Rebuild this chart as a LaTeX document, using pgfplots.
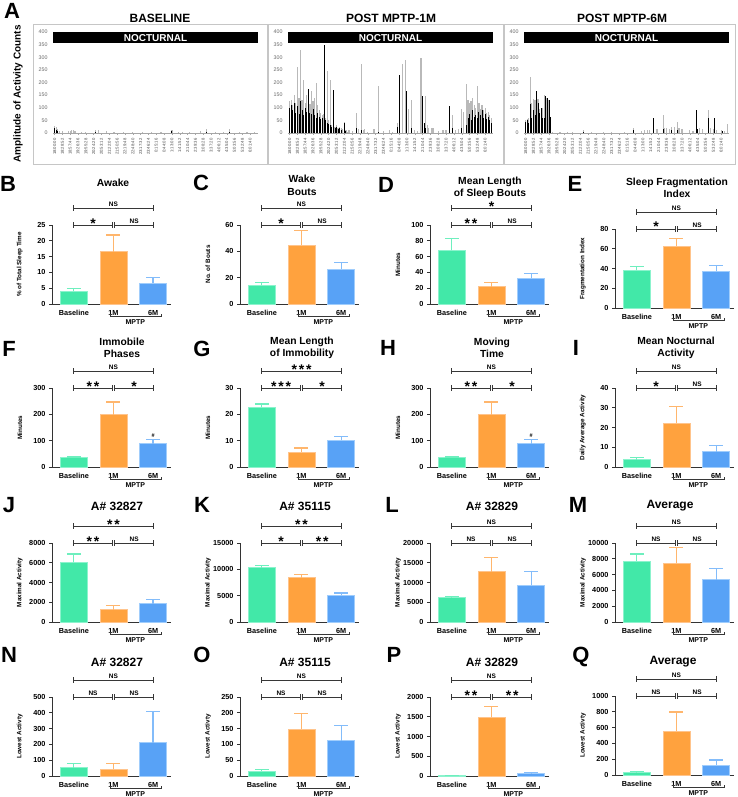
\documentclass[border=0pt]{standalone}
\usepackage{fontspec}
\setmainfont{Liberation Sans}
\usepackage{pgfplots}
\pgfplotsset{compat=1.18}

\definecolor{gB}{RGB}{66,232,168}
\definecolor{gBd}{RGB}{140,243,205}
\definecolor{oB}{RGB}{255,162,62}
\definecolor{oBd}{RGB}{255,196,140}
\definecolor{bB}{RGB}{88,162,246}
\definecolor{bBd}{RGB}{160,205,252}
\definecolor{brk}{RGB}{55,55,55}

\newcommand\NS{{\fontsize{6.5}{7}\selectfont NS}}
\newcommand\St[1]{\raisebox{-4.6pt}{\fontsize{14}{14}\selectfont #1}}
\newcommand\Sa{\St{*}}
\newcommand\Sb{\St{*\hspace{1.8pt}*}}
\newcommand\Sc{\St{*\hspace{1.8pt}*\hspace{1.8pt}*}}

\newcommand\hbr[3]{%
  \draw[brk,line width=0.9pt] ([yshift=#3]rel axis cs:#1,1) -- ([yshift=#3]rel axis cs:#2,1);
  \draw[brk,line width=0.9pt] ([yshift=#3-2.6pt]rel axis cs:#1,1) -- ([yshift=#3+2.6pt]rel axis cs:#1,1);
  \draw[brk,line width=0.9pt] ([yshift=#3-2.6pt]rel axis cs:#2,1) -- ([yshift=#3+2.6pt]rel axis cs:#2,1);
}
\newcommand\brackets[3]{%
  \hbr{0.1833}{0.85}{17pt}%
  \hbr{0.1833}{0.507}{0pt}%
  \hbr{0.527}{0.85}{0pt}%
  \node[anchor=base,inner sep=0pt] at ([yshift=18.6pt]rel axis cs:0.5167,1) {#1};
  \node[anchor=base,inner sep=0pt] at ([yshift=1.6pt]rel axis cs:0.345,1) {#2};
  \node[anchor=base,inner sep=0pt] at ([yshift=1.6pt]rel axis cs:0.69,1) {#3};
  \draw[brk,line width=0.9pt] ([yshift=-10pt]rel axis cs:0.487,0) -- ([yshift=-12.5pt]rel axis cs:0.487,0) -- ([yshift=-12.5pt]rel axis cs:0.916,0) -- ([yshift=-10pt]rel axis cs:0.916,0);
  \node[anchor=center,inner sep=0pt,font=\bfseries\fontsize{7}{8}\selectfont] at ([yshift=-18pt]rel axis cs:0.70,0) {MPTP};
}
\newcommand\bars[6]{%
 \addplot[ybar,bar width=27pt,fill=gB,draw=gBd,line width=0.8pt,
   error bars/.cd,y dir=plus,y explicit,
   error bar style={color=gBd!60!gB,line width=1.3pt},
   error mark options={rotate=90,mark size=7pt,color=gBd!60!gB,line width=1.3pt}]
   coordinates {(0,#1) +- (0,#2)};
 \addplot[ybar,bar width=27pt,fill=oB,draw=oBd,line width=0.8pt,
   error bars/.cd,y dir=plus,y explicit,
   error bar style={color=oBd!60!oB,line width=1.3pt},
   error mark options={rotate=90,mark size=7pt,color=oBd!60!oB,line width=1.3pt}]
   coordinates {(1,#3) +- (0,#4)};
 \addplot[ybar,bar width=27pt,fill=bB,draw=bBd,line width=0.8pt,
   error bars/.cd,y dir=plus,y explicit,
   error bar style={color=bBd!60!bB,line width=1.3pt},
   error mark options={rotate=90,mark size=7pt,color=bBd!60!bB,line width=1.3pt}]
   coordinates {(2,#5) +- (0,#6)};
}

\pgfplotsset{
 barpanel/.style={
   scale only axis,width=119pt,height=79pt,anchor=south west,
   xmin=-0.55,xmax=2.45,ymin=0,
   axis x line*=bottom,axis y line*=left,
   axis line style={-,line width=0.9pt,black!80},
   xtick={0,1,2},xticklabels={Baseline,1M,6M},
   x tick style={draw=none},
   y tick style={line width=0.9pt,black!80},
   tick align=outside,major tick length=3pt,
   tick label style={font=\bfseries\fontsize{7.3}{8}\selectfont},
   /pgf/number format/assume math mode=true,
   /pgf/number format/1000 sep={},
   scaled y ticks=false,
   ylabel style={font=\bfseries\fontsize{6.3}{7}\selectfont,at={(axis description cs:-0.27,0.5)},anchor=center,rotate=0},
   clip=false,
 },
 actpanel/.style={
   scale only axis,width=205pt,height=101pt,anchor=south west,
   xmin=-1,xmax=130,ymin=0,ymax=400,ytick={0,50,...,400},
   axis x line*=bottom,axis y line*=left,
   y axis line style={draw=none},x axis line style={-,gray!70,line width=0.6pt},
   ytick style={draw=none},
   xtick={0,5,...,125},
   xticklabels={18:00:00,18:28:52,18:57:44,19:26:36,19:55:28,20:24:20,20:53:12,21:22:04,21:50:56,22:19:48,22:48:40,23:17:32,23:46:24,0:15:16,0:44:08,1:13:00,1:41:52,2:10:44,2:39:36,3:08:28,3:37:20,4:06:12,4:35:04,5:03:56,5:32:48,6:01:40},
   x tick style={gray!70,line width=0.4pt},tick align=outside,major tick length=2pt,
   yticklabel style={font=\mdseries\fontsize{5.3}{6}\selectfont,text=black!60},
   xticklabel style={font=\mdseries\fontsize{4.2}{5}\selectfont,text=black!70,rotate=90,anchor=east},
   /pgf/number format/assume math mode=true,
   clip=false,
 },
}
\newcommand\noct{%
  \fill[black] (rel axis cs:0,0.888) rectangle (rel axis cs:1,1);
  \node[white,font=\bfseries\fontsize{10}{11}\selectfont] at (rel axis cs:0.5,0.944) {NOCTURNAL};
}

\begin{document}
\bfseries
\begin{tikzpicture}[font=\bfseries]
\useasboundingbox (0,0) rectangle (738pt,-797pt);

% ---------------- Panel A ----------------
\node[font=\bfseries\fontsize{22}{22}\selectfont] at (12pt,-11pt) {A};
\node[rotate=90,font=\bfseries\fontsize{10}{12}\selectfont] at (18pt,-94pt) {Amplitude of Activity Counts};
\draw[gray!45,line width=0.8pt] (33pt,-24pt) rectangle (267pt,-164pt);
\draw[gray!45,line width=0.8pt] (268pt,-24pt) rectangle (503pt,-164pt);
\draw[gray!45,line width=0.8pt] (504pt,-24pt) rectangle (735pt,-164pt);
\node[font=\bfseries\fontsize{12}{13}\selectfont] at (160pt,-18pt) {BASELINE};
\node[font=\bfseries\fontsize{12}{13}\selectfont] at (391pt,-18pt) {POST MPTP-1M};
\node[font=\bfseries\fontsize{12}{13}\selectfont] at (622pt,-18pt) {POST MPTP-6M};

\begin{axis}[actpanel,at={(53pt,-133pt)}]
\addplot[ycomb,no marks,gray!55,line width=1.2pt] coordinates {(0,28) (1,22) (2,15) (3,8) (5,8) (9,6) (10,9) (11,10) (12,11) (13,8) (17,3) (20,2) (26,12) (28,12) (33,8) (38,5) (44,3) (50,2) (56,3) (62,2) (68,3) (75,12) (79,4) (82,5) (86,5) (93,6) (97,16) (103,5) (108,3) (112,15) (118,3) (123,4) (128,5)};
\addplot[ycomb,no marks,black,line width=0.9pt] coordinates {(0,18) (1,12) (2,6) (26,5) (75,7) (97,4) (112,5)};
\noct
\end{axis}

\begin{axis}[actpanel,at={(288pt,-133pt)}]
\addplot[ycomb,no marks,gray!55,line width=1.2pt] coordinates {(0,125) (1,130) (2,110) (3,150) (4,120) (5,262) (6,140) (7,330) (8,130) (9,210) (10,120) (11,150) (12,100) (13,115) (14,165) (15,125) (16,140) (17,197) (18,110) (19,90) (20,80) (21,70) (22,75) (23,60) (24,245) (25,50) (26,210) (27,30) (28,40) (29,25) (30,30) (31,20) (32,25) (33,20) (34,15) (35,45) (36,10) (37,5) (38,10) (40,8) (43,80) (44,15) (46,272) (47,10) (48,15) (50,5) (54,15) (57,185) (60,8) (64,10) (66,5) (69,40) (72,272) (74,290) (76,95) (78,132) (80,10) (82,8) (84,298) (87,145) (88,30) (89,20) (91,20) (92,20) (95,8) (98,10) (100,12) (104,70) (106,10) (108,15) (110,95) (111,85) (113,193) (114,130) (115,120) (116,125) (117,140) (118,110) (119,100) (120,185) (121,120) (122,95) (123,110) (124,90) (125,100) (126,80) (127,85) (128,70) (129,60)};
\addplot[ycomb,no marks,black,line width=0.9pt] coordinates {(0,100) (1,110) (2,90) (3,120) (4,80) (5,105) (6,75) (7,125) (8,90) (9,70) (10,100) (11,85) (12,175) (13,80) (14,75) (15,95) (16,70) (17,60) (18,80) (19,65) (20,55) (21,60) (22,350) (23,50) (24,40) (25,35) (26,30) (27,25) (28,170) (29,20) (30,25) (31,15) (32,20) (33,10) (35,40) (36,8) (43,20) (46,10) (57,5) (69,25) (70,230) (75,165) (78,20) (85,145) (86,40) (87,20) (102,105) (104,20) (110,20) (113,30) (114,60) (115,75) (116,50) (117,90) (118,65) (119,70) (120,60) (121,85) (122,70) (123,90) (124,60) (125,75) (126,55) (127,65) (128,50) (129,40)};
\noct
\end{axis}

\begin{axis}[actpanel,at={(524pt,-133pt)}]
\addplot[ycomb,no marks,gray!55,line width=1.2pt] coordinates {(0,50) (1,55) (2,60) (3,222) (4,120) (5,135) (6,130) (7,100) (8,135) (9,95) (10,95) (11,100) (12,149) (13,140) (14,135) (15,130) (16,60) (17,5) (22,5) (27,4) (30,5) (37,10) (42,4) (50,5) (55,3) (63,5) (69,20) (74,8) (76,12) (78,10) (79,12) (84,15) (88,70) (89,18) (90,20) (92,15) (93,25) (95,22) (97,45) (98,20) (100,15) (105,12) (107,8) (111,20) (113,15) (117,90) (118,20) (120,15) (122,10) (125,10) (127,8) (129,35)};
\addplot[ycomb,no marks,black,line width=0.9pt] coordinates {(0,45) (1,50) (2,40) (3,115) (4,60) (5,90) (6,70) (7,166) (8,120) (9,80) (10,100) (11,60) (12,60) (13,145) (14,140) (15,130) (16,65) (37,5) (69,10) (82,60) (88,15) (93,10) (97,12) (109,90) (110,15) (117,60) (121,60) (126,8)};
\noct
\end{axis}

% ---------------- Row B-E ----------------
\begin{axis}[barpanel,at={(52pt,-304pt)},ymax=25,ytick distance=5,ylabel={\% of Total Sleep Time}]
\bars{4.1}{0.9}{16.5}{5.3}{6.5}{1.9}
\brackets{\NS}{\Sa}{\NS}
\end{axis}
\begin{axis}[barpanel,at={(240pt,-304pt)},ymax=60,ytick distance=20,ylabel={No. of Bouts}]
\bars{14.4}{1.8}{44.5}{11.4}{26.4}{5}
\brackets{\NS}{\Sa}{\NS}
\end{axis}
\begin{axis}[barpanel,at={(430pt,-304pt)},ymax=100,ytick distance=20,ylabel={Minutes}]
\bars{68}{15}{22}{5}{32.5}{6.5}
\brackets{\Sa}{\Sb}{\NS}
\end{axis}
\begin{axis}[barpanel,at={(615pt,-308pt)},ymax=80,ytick distance=20,ylabel={Fragmentation Index}]
\bars{38.3}{4}{62.3}{8.4}{37.3}{5.7}
\brackets{\NS}{\Sa}{\NS}
\end{axis}

% ---------------- Row F-I ----------------
\begin{axis}[barpanel,at={(52pt,-467pt)},ymax=300,ytick distance=100,ylabel={Minutes}]
\bars{36}{2}{198}{49}{89}{16}
\brackets{\NS}{\Sb}{\Sa}
\node[anchor=south,inner sep=0pt,font=\bfseries\fontsize{5.5}{6}\selectfont] at ([yshift=2pt]axis cs:2,105) {\#};
\end{axis}
\begin{axis}[barpanel,at={(240pt,-467pt)},ymax=30,ytick distance=10,ylabel={Minutes}]
\bars{22.6}{1.3}{5.7}{1.5}{10.1}{1.5}
\brackets{\Sc}{\Sc}{\Sa}
\end{axis}
\begin{axis}[barpanel,at={(430pt,-467pt)},ymax=300,ytick distance=100,ylabel={Minutes}]
\bars{36}{2}{198}{49}{89}{16}
\brackets{\NS}{\Sb}{\Sa}
\node[anchor=south,inner sep=0pt,font=\bfseries\fontsize{5.5}{6}\selectfont] at ([yshift=2pt]axis cs:2,105) {\#};
\end{axis}
\begin{axis}[barpanel,at={(615pt,-467pt)},ymax=40,ytick distance=10,ylabel={Daily Average Activity}]
\bars{3.8}{1}{22.3}{8.2}{7.7}{3.3}
\brackets{\NS}{\Sa}{\NS}
\end{axis}

% ---------------- Row J-M ----------------
\begin{axis}[barpanel,at={(52pt,-622pt)},ymax=8000,ytick distance=2000,ylabel={Maximal Activity}]
\bars{6050}{850}{1230}{440}{1850}{410}
\brackets{\Sb}{\Sb}{\NS}
\end{axis}
\begin{axis}[barpanel,at={(240pt,-622pt)},ymax=15000,ytick distance=5000,ylabel={Maximal Activity}]
\bars{10330}{400}{8400}{640}{5060}{460}
\brackets{\Sb}{\Sa}{\Sb}
\end{axis}
\begin{axis}[barpanel,at={(430pt,-622pt)},ymax=20000,ytick distance=5000,ylabel={Maximal Activity}]
\bars{6330}{100}{12740}{3660}{9300}{3440}
\brackets{\NS}{\NS}{\NS}
\end{axis}
\begin{axis}[barpanel,at={(615pt,-622pt)},ymax=10000,ytick distance=2000,ylabel={Maximal Activity}]
\bars{7730}{860}{7440}{2010}{5380}{1410}
\brackets{\NS}{\NS}{\NS}
\end{axis}

% ---------------- Row N-Q ----------------
\begin{axis}[barpanel,at={(52pt,-776pt)},ymax=500,ytick distance=100,ylabel={Lowest Activty}]
\bars{52}{28}{44}{36}{211}{196}
\brackets{\NS}{\NS}{\NS}
\end{axis}
\begin{axis}[barpanel,at={(240pt,-776pt)},ymax=250,ytick distance=50,ylabel={Lowest Activty}]
\bars{16}{5}{148}{50}{112}{47}
\brackets{\NS}{\NS}{\NS}
\end{axis}
\begin{axis}[barpanel,at={(430pt,-776pt)},ymax=2000,ytick distance=500,ylabel={Lowest Activty}]
\bars{12}{5}{1486}{270}{62}{20}
\brackets{\NS}{\Sb}{\Sb}
\end{axis}
\begin{axis}[barpanel,at={(615pt,-775pt)},ymax=1000,ytick distance=200,ylabel={Lowest Activty}]
\bars{29}{13}{555}{242}{127}{64}
\brackets{\NS}{\NS}{\NS}
\end{axis}

% ---------------- Letters ----------------
\foreach \l/\x/\y in {B/8/184,C/201/183,D/386/185,E/575/184,F/9/349,G/202/349,H/388/348,I/576/348,J/9/505,K/202/505,L/392/505,M/578/505,N/9/655,O/202/655,P/394/655,Q/581/657}
  \node[font=\bfseries\fontsize{22}{22}\selectfont] at (\x pt,-\y pt) {\l};

% ---------------- Titles ----------------
\begin{scope}[every node/.style={align=center,font=\bfseries\fontsize{10.3}{12.5}\selectfont}]
\node at (113pt,-183pt) {Awake};
\node at (302pt,-185.5pt) {Wake\\Bouts};
\node at (490pt,-188pt) {Mean Length\\of Sleep Bouts};
\node at (677pt,-188pt) {Sleep Fragmentation\\Index};
\node at (122pt,-348pt) {Immobile\\Phases};
\node at (302pt,-348pt) {Mean Length\\of Immobility};
\node at (492pt,-348pt) {Moving\\Time};
\node at (676pt,-348pt) {Mean Nocturnal\\Activity};
\end{scope}
\begin{scope}[every node/.style={font=\bfseries\fontsize{12}{13}\selectfont}]
\node at (117pt,-506pt) {A\# 32827};
\node at (305pt,-506pt) {A\# 35115};
\node at (492pt,-506pt) {A\# 32829};
\node at (670pt,-506pt) {Average};
\node at (117pt,-662pt) {A\# 32827};
\node at (305pt,-662pt) {A\# 35115};
\node at (492pt,-662pt) {A\# 32829};
\node at (673pt,-662pt) {Average};
\end{scope}
\end{tikzpicture}
\end{document}
